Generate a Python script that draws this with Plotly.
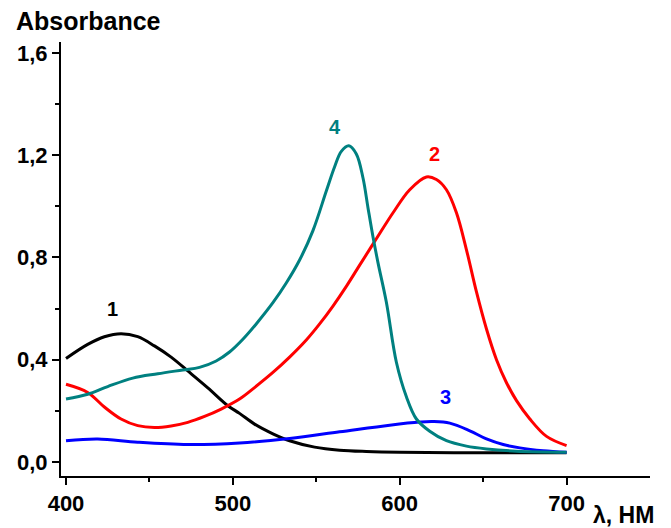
import plotly.graph_objects as go

# Absorption spectra, wavelength in nm
wl_1 = [400, 413, 423, 433, 443, 453, 463, 473, 485, 497, 504, 513, 524, 534, 549, 564, 580, 600, 650, 700]
abs_1 = [0.405, 0.46, 0.49, 0.502, 0.49, 0.454, 0.41, 0.356, 0.29, 0.22, 0.19, 0.148, 0.11, 0.083, 0.058, 0.046, 0.041, 0.038, 0.036, 0.036]

wl_2 = [400, 413, 423, 433, 443, 453, 463, 473, 483, 493, 504, 513, 524, 534, 544, 552, 560, 568, 576, 586,
        596, 606, 616, 622, 628, 634, 640, 646, 652, 658, 664, 670, 678, 688, 700]
abs_2 = [0.304, 0.272, 0.215, 0.168, 0.142, 0.135, 0.141, 0.155, 0.178, 0.207, 0.246, 0.291, 0.35, 0.41, 0.477, 0.54, 0.61, 0.687, 0.77, 0.873,
         0.975, 1.065, 1.115, 1.105, 1.065, 0.975, 0.83, 0.665, 0.52, 0.40, 0.31, 0.24, 0.168, 0.10, 0.064]

wl_3 = [400, 419, 443, 473, 504, 534, 564, 594, 612, 620, 630, 642, 652, 662, 672, 686, 700]
abs_3 = [0.083, 0.09, 0.077, 0.068, 0.074, 0.092, 0.118, 0.144, 0.156, 0.158, 0.152, 0.122, 0.09, 0.068, 0.055, 0.044, 0.038]

wl_4 = [400, 413, 425, 440, 455, 470, 480, 490, 498, 506, 514, 524, 532, 540, 548, 556, 561, 565, 569.5, 574,
        578, 581, 584, 587, 592, 598, 604, 610, 618, 628, 640, 652, 670, 700]
abs_4 = [0.246, 0.265, 0.295, 0.328, 0.345, 0.36, 0.37, 0.395, 0.43, 0.48, 0.54, 0.623, 0.70, 0.79, 0.905, 1.06, 1.155, 1.215, 1.237, 1.205,
         1.111, 0.994, 0.88, 0.779, 0.625, 0.39, 0.255, 0.168, 0.12, 0.083, 0.062, 0.051, 0.042, 0.038]

series = [
    ("1", wl_1, abs_1, "#000000"),
    ("2", wl_2, abs_2, "#ff0000"),
    ("3", wl_3, abs_3, "#0000ff"),
    ("4", wl_4, abs_4, "#008080"),
]

# Curve number labels: (label, wavelength, absorbance)
curve_labels = [("1", 428, 0.597), ("2", 621, 1.205), ("3", 627.6, 0.256), ("4", 561, 1.312)]

y_ticks = [0.0, 0.4, 0.8, 1.2, 1.6]
y_ticktext = ["0,0", "0,4", "0,8", "1,2", "1,6"]
x_ticks = [400, 500, 600, 700]
x_ticktext = ["400", "500", "600", "700"]

FONT = "Liberation Sans, Arial, sans-serif"

fig = go.Figure()
for name, x, y, color in series:
    fig.add_trace(go.Scatter(
        x=x, y=y, mode="lines", name=name,
        line=dict(color=color, width=3, shape="spline", smoothing=1.0),
        showlegend=False,
    ))

colors = {s[0]: s[3] for s in series}
for lab, x, y in curve_labels:
    fig.add_annotation(x=x, y=y, text=lab, showarrow=False,
                       font=dict(family=FONT, size=20, color=colors[lab], weight="bold"))

fig.add_annotation(xref="paper", yref="paper", x=-0.08, y=1.0, yshift=21,
                   xanchor="left", yanchor="middle", text="Absorbance", showarrow=False,
                   font=dict(family=FONT, size=25, color="black", weight="bold"))
fig.add_annotation(xref="paper", yref="paper", x=0.9, y=0, yshift=-39,
                   xanchor="left", yanchor="middle", text="λ, НМ", showarrow=False,
                   font=dict(family=FONT, size=23, color="black", weight="bold"))

axis_common = dict(
    showgrid=False, zeroline=False, showline=True, linecolor="black", linewidth=2,
    ticks="outside", ticklen=7, tickwidth=2, tickcolor="black",
    tickfont=dict(family=FONT, size=22, color="black", weight="bold"),
)

fig.update_xaxes(range=[397, 750], tickvals=x_ticks, ticktext=x_ticktext,
                 minor=dict(tickvals=[450, 550, 650], ticks="outside", ticklen=4,
                            tickwidth=2, tickcolor="black"),
                 **axis_common)
fig.update_yaxes(range=[-0.055, 1.643], tickvals=y_ticks, ticktext=y_ticktext,
                 minor=dict(tickvals=[0.2, 0.6, 1.0, 1.4], ticks="outside", ticklen=4,
                            tickwidth=2, tickcolor="black"),
                 **axis_common)

fig.update_layout(
    width=671, height=528,
    margin=dict(l=61, r=21, t=42, b=50),
    plot_bgcolor="white", paper_bgcolor="white",
)

fig.write_html("out.html")
